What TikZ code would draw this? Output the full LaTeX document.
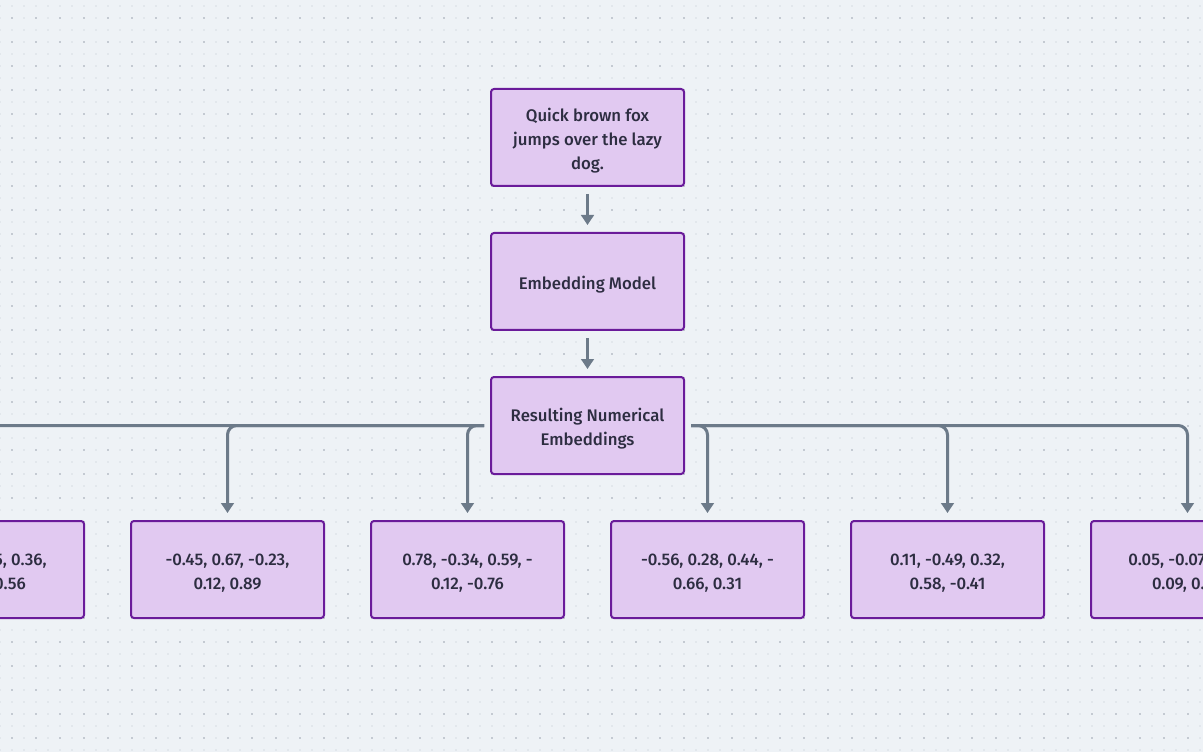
\documentclass[tikz,border=0pt]{standalone}
\usepackage{fontspec}
\setmainfont{Fira Sans}[UprightFont=* Medium]
\usepackage{tikz}
\usetikzlibrary{arrows.meta}

\definecolor{bgcol}{RGB}{238,242,246}
\definecolor{dotlight}{RGB}{226,231,236}
\definecolor{dotdark}{RGB}{196,202,210}
\definecolor{boxfill}{RGB}{225,201,241}
\definecolor{boxline}{RGB}{106,27,154}
\definecolor{linkcol}{RGB}{108,122,137}
\definecolor{txtcol}{RGB}{45,45,65}
% pushes the text a little down in its box
\newcommand{\ts}{\rule{0pt}{14.2pt}}

\begin{document}
\begin{tikzpicture}[x=0.75pt,y=0.75pt,yscale=-1,xscale=1,
	box/.style={draw=boxline, fill=boxfill, line width=1.5pt, rounded corners=2.25pt, minimum width=144.75pt, minimum height=72.75pt, inner sep=0pt, align=center, text=txtcol, font=\fontsize{12.6}{18}\selectfont},
	link/.style={draw=linkcol, line width=2.25pt, rounded corners=7pt, -{Triangle[width=9.5pt,length=7.5pt]}, shorten <=4.5pt, shorten >=5.25pt}]
			%set diagram size 1203 x 752
			\useasboundingbox (0,0) rectangle (1203,752);
			\clip (0,0) rectangle (1203,752);
			\fill[bgcol] (0,0) rectangle (1203,752);
			
			% Dot grid
			\foreach \i in {0,...,100} {
				\foreach \j in {0,...,62} {
					\fill[dotlight] (12*\i-0.8,6+12*\j-0.8) rectangle ++(1.6,1.6);
				}
			}
			\foreach \i in {0,...,49} {
				\foreach \j in {0,...,30} {
					\fill[dotdark] (12+24*\i-0.8,18+24*\j-0.8) rectangle ++(1.6,1.6);
				}
			}
			
			% Text Node
			\node[box] (sentence) at (587.5,137.5) {\ts Quick brown fox\\jumps over the lazy\\dog.};
			% Model Node
			\node[box] (model) at (587.5,281.5) {\ts Embedding Model};
			% Result Node
			\node[box] (result) at (587.5,425.5) {\ts Resulting Numerical\\Embeddings};
			
			% Vector Nodes
			\node[box] (vecA) at (-12.5,569.5) {\ts 0.82, -0.15, 0.36,\\-0.29, 0.56};
			\node[box] (vecB) at (227.5,569.5) {\ts -0.45, 0.67, -0.23,\\0.12, 0.89};
			\node[box] (vecC) at (467.5,569.5) {\ts 0.78, -0.34, 0.59, -\\0.12, -0.76};
			\node[box] (vecD) at (707.5,569.5) {\ts -0.56, 0.28, 0.44, -\\0.66, 0.31};
			\node[box] (vecE) at (947.5,569.5) {\ts 0.11, -0.49, 0.32,\\0.58, -0.41};
			\node[box] (vecF) at (1187.5,569.5) {\ts 0.05, -0.07, 0.93,\\0.09, 0.64};
			
			% Arrows
			\draw[link, shorten <=5.25pt] (sentence) -- (model);
			\draw[link, shorten <=5.25pt] (model) -- (result);
			\draw[link] (result.west) -| (vecA.north);
			\draw[link] (result.west) -| (vecB.north);
			\draw[link] (result.west) -| (vecC.north);
			\draw[link] (result.east) -| (vecD.north);
			\draw[link] (result.east) -| (vecE.north);
			\draw[link] (result.east) -| (vecF.north);
		\end{tikzpicture}
\end{document}
